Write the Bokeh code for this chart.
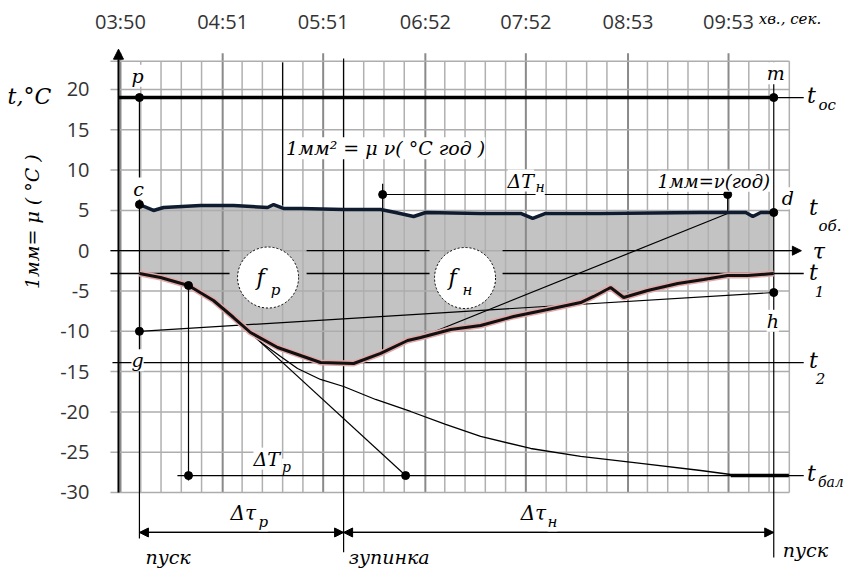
import math
from bokeh.plotting import figure
from bokeh.models import Range1d, FixedTicker, Label, Arrow, NormalHead
from bokeh.embed import file_html
from bokeh.resources import INLINE

# ---------------- data ----------------
time_ticks = [230, 291, 351, 412, 472, 533, 593]          # seconds
time_labels = ["03:50", "04:51", "05:51", "06:52", "07:52", "08:53", "09:53"]
temp_ticks = [-30, -25, -20, -15, -10, -5, 0, 5, 10, 15, 20]
temp_top = 23.5

t_start = 241.3     # пуск
t_stop = 363.2      # зупинка
t_end = 620.0       # пуск
t_mark = 326.8

T_oc = 19.0
T_1 = -2.83
T_2 = -13.9
T_bal = -27.9
T_g = -10.0
T_h = -5.19
T_dTn = 6.97

# t_об (object temperature)
ob_time = [241.3, 249.7, 255.7, 277.8, 297.5, 317.8, 321.4, 327.3, 337.5, 363.2, 385.3,
           394.2, 405.0, 412.2, 445.0, 468.9, 476.1, 483.8, 516.7, 576.4, 603.3, 607.5,
           612.2, 620.0]
ob_temp = [5.73, 4.99, 5.36, 5.61, 5.61, 5.36, 5.73, 5.24, 5.24, 5.11, 5.11,
           4.74, 4.24, 4.74, 4.62, 4.62, 4.00, 4.62, 4.62, 4.74, 4.74, 4.24,
           4.74, 4.74]

# evaporator temperature
cold_time = [241.3, 253.9, 270.6, 285.5, 297.5, 307.6, 323.8, 337.5, 349.4, 369.2, 385.3,
             401.4, 409.2, 427.1, 445.0, 464.7, 485.0, 504.7, 512.5, 522.6, 530.4,
             544.7, 562.7, 578.2, 592.5, 604.5, 620.0]
cold_temp = [-2.83, -3.33, -4.32, -6.18, -8.29, -10.15, -12.01, -13.0, -13.87, -14.0, -12.75,
             -11.14, -10.77, -9.78, -9.28, -8.16, -7.30, -6.43, -5.68, -4.57, -5.81,
             -4.94, -4.07, -3.57, -3.08, -3.08, -2.83]

# cooling toward t_бал
bal_time = [304.65, 314.8, 325.6, 335.7, 349.4, 363.2, 382.3, 403.2, 424.1, 445.0, 474.9,
            504.7, 540.6, 576.4, 594.3, 629.0]
bal_temp = [-9.65, -11.51, -13.13, -14.62, -15.98, -16.85, -18.46, -19.95, -21.56, -23.05,
            -24.54, -25.53, -26.40, -27.27, -27.77, -27.89]

dTp_t0, dTp_t1 = 270.6, 400.2
dTn_t0, dTn_t1 = 386.5, 592.5
tan_p = (304.65, -9.65)
tan_n = (386.5, -12.63)
tan_n_end = (592.5, 4.62)

# ---------------- figure ----------------
X0, X1 = 158.36, 664.03
Y0, Y1 = -39.43, 31.04
axis_x = 222.84
axis_y = 26.08

p = figure(width=847, height=568, x_range=Range1d(X0, X1), y_range=Range1d(Y0, Y1),
           output_backend="svg", toolbar_location=None, x_axis_location="above")
p.min_border = 0
p.min_border_left = 0
p.min_border_right = 0
p.min_border_top = 0
p.min_border_bottom = 0
p.outline_line_color = None
p.xgrid.grid_line_color = None
p.ygrid.grid_line_color = None

xa = p.xaxis[0]
xa.fixed_location = axis_y
xa.ticker = FixedTicker(ticks=time_ticks)
xa.major_label_overrides = {t: s for t, s in zip(time_ticks, time_labels)}
xa.axis_line_color = None
xa.major_tick_line_color = None
xa.minor_tick_line_color = None
xa.major_label_standoff = -1
xa.major_label_text_font = "Open Sans"
xa.major_label_text_font_size = "20px"
xa.major_label_text_color = "#333333"

ya = p.yaxis[0]
ya.fixed_location = axis_x
ya.ticker = FixedTicker(ticks=temp_ticks)
ya.major_label_overrides = {t: str(t) for t in temp_ticks}
ya.axis_line_color = None
ya.major_tick_line_color = None
ya.minor_tick_line_color = None
ya.major_label_standoff = 13
ya.major_label_text_font = "Open Sans"
ya.major_label_text_font_size = "20px"
ya.major_label_text_color = "#333333"

# gray area between t_об and evaporator curve
p.patch(ob_time + cold_time[::-1], ob_temp + cold_temp[::-1], fill_color="#c3c3c3", line_color=None)

# grid
step = (time_ticks[-1] - time_ticks[0]) / 30
grid_end = time_ticks[0] + 33 * step
grid_left = 224.0
minor_x = [time_ticks[0] + k * step for k in range(1, 34) if k % 5 != 0]
p.segment(x0=minor_x, y0=[temp_ticks[0]] * len(minor_x), x1=minor_x, y1=[temp_top] * len(minor_x),
          line_color="#b0b0b0", line_width=1.5)
p.segment(x0=time_ticks, y0=[temp_ticks[0]] * len(time_ticks), x1=time_ticks,
          y1=[temp_top + 1.0] * len(time_ticks), line_color="#8a8a8a", line_width=2)
hy = temp_ticks + [temp_top]
p.segment(x0=[grid_left] * len(hy), y0=hy, x1=[grid_end] * len(hy), y1=hy,
          line_color="#adadad", line_width=1.5)

K = "black"
# y axis arrow
p.add_layout(Arrow(end=NormalHead(size=10, fill_color=K, line_color=K), x_start=228.8, y_start=temp_ticks[0],
                   x_end=228.8, y_end=25.0, line_color=K, line_width=2))

# thin construction lines
seg_x0 = [t_start, t_end, t_stop, t_mark, dTn_t0, dTn_t0, dTn_t1, dTp_t0, 264.0, 225.2, t_start, tan_p[0], tan_n[0], t_end]
seg_y0 = [T_oc, 23.35, 23.85, 23.35, 8.3, T_dTn, T_dTn, cold_temp[2], T_bal, T_2, T_g, tan_p[1], tan_n[1], T_oc]
seg_x1 = [t_start, t_end, t_stop, t_mark, dTn_t0, dTn_t1, dTn_t1, dTp_t0, 637.9, 637.9, t_end, dTp_t1, tan_n_end[0], 637.9]
seg_y1 = [-35.7, -38.06, -37.4, 5.6, tan_n[1], T_dTn, tan_n_end[1], -28.5, T_bal, T_2, T_h, T_bal, tan_n_end[1], T_oc]
p.segment(x0=seg_x0, y0=seg_y0, x1=seg_x1, y1=seg_y1, line_color=K, line_width=1.2)

# 0 line and t1 line with gaps for circles
gx0 = [grid_left, 341.1, grid_left, 341.1, 458.1]
gx1 = [295.1, 414.5, 295.1, 414.5, 637.9]
gy = [0, 0, T_1, T_1, T_1]
p.segment(x0=gx0, y0=gy, x1=gx1, y1=gy, line_color=K, line_width=1.3)
p.add_layout(Arrow(end=NormalHead(size=9, fill_color=K, line_color=K), x_start=458.1, y_start=0,
                   x_end=636.5, y_end=0, line_color=K, line_width=1.3))

# t_oc thick line
p.line([228.8, t_end], [T_oc, T_oc], line_color=K, line_width=3.5)

# curves
p.line(bal_time, bal_temp, line_color=K, line_width=1.3)
p.line([594.3, 629.0], [T_bal, T_bal], line_color=K, line_width=3.5)
p.line(cold_time, cold_temp, line_color="#e3a8a8", line_width=6)
p.line(cold_time, cold_temp, line_color="#111111", line_width=3)
p.line(ob_time, ob_temp, line_color="#0f1c30", line_width=3.5)

# Δτ arrows
ya_t = -34.96
for xs, xe in [(t_stop, t_start), (t_start, t_stop), (t_end, t_stop), (t_stop, t_end)]:
    p.add_layout(Arrow(end=NormalHead(size=9, fill_color=K, line_color=K), x_start=xs, y_start=ya_t,
                       x_end=xe, y_end=ya_t, line_color=K, line_width=1.3))

# circles f_p / f_н
p.scatter(x=[318.1, 435.7], y=[-3.33, -3.39], size=61, marker="circle", fill_color="white",
          line_color=K, line_dash="2 2", line_width=1)

# dots
dot_x = [t_start, t_end, t_start, t_end, t_start, t_end, dTp_t0, dTp_t0, dTp_t1, dTn_t0, dTn_t1]
dot_y = [T_oc, T_oc, ob_temp[0], ob_temp[-1], T_g, T_h, cold_temp[2], T_bal, T_bal, T_dTn, T_dTn]
p.scatter(x=dot_x, y=dot_y, size=8, color=K)


def lab(text, x, y, size=20, align="center", baseline="middle", bg=None, angle=0.0,
        font="DejaVu Serif", style="italic"):
    kw = dict(x=x, y=y, text=text, text_font=font, text_font_style=style, text_font_size=f"{size}px",
              text_align=align, text_baseline=baseline, text_color="black", angle=angle)
    if bg:
        kw["background_fill_color"] = bg
    p.add_layout(Label(**kw))


W = "white"
lab("t,°C", 175.6, 19.1, 22)
lab("1мм= μ ( °C )", 177.4, 3.6, 19, angle=math.pi / 2)
lab("хв., сек.", 611.0, 28.7, 15, align="left")
lab("p", 240.2, 21.7, 19, bg=W)
lab("m", 621.2, 22.0, 19, bg=W)
lab("c", 240.8, 7.7, 19, bg=W)
lab("d", 628.4, 6.5, 19, bg=W)
lab("g", 240.2, -13.6, 19, bg=W)
lab("h", 619.4, -8.7, 19, bg=W)
lab("t", 642.5, 19.3, 22)
lab("oc", 646.7, 18.1, 15, align="left")
lab("t", 643.7, 5.36, 22)
lab("об.", 646.7, 3.1, 15, align="left")
lab("τ", 646.9, -0.1, 22)
lab("t", 643.7, -2.7, 22)
lab("1", 647.3, -5.06, 15)
lab("t", 643.7, -13.6, 22)
lab("2", 647.9, -15.86, 15)
lab("t", 642.5, -27.64, 22)
lab("бал", 646.4, -28.64, 14, align="left")
lab("1мм² = μ ν( °C год )", 388.3, 12.7, 19, bg=W)
lab("ΔT", 461.1, 8.7, 19, align="left", bg=W)
lab("н", 477.8, 7.9, 14, align="left", bg=W)
lab("1мм=ν(год)", 584.2, 8.6, 18, bg=W)
lab("f", 313.6, -3.33, 22)
lab("p", 322.5, -4.9, 15)
lab("f", 428.2, -3.33, 22)
lab("н", 437.2, -4.9, 15)
lab("ΔT", 309.4, -25.8, 19, align="left", bg=W)
lab("p", 326.4, -26.8, 14, align="left", bg=W)
lab("Δτ", 295.7, -32.6, 20, align="left", bg=W)
lab("p", 312.4, -33.7, 15, align="left", bg=W)
lab("Δτ", 468.9, -32.6, 20, align="left", bg=W)
lab("н", 485.0, -33.7, 15, align="left", bg=W)
lab("пуск", 244.9, -38.0, 19, align="left")
lab("зупинка", 366.2, -38.0, 19, align="left")
lab("пуск", 625.4, -37.1, 19, align="left")

open("out.html", "w").write(file_html(p, INLINE))
